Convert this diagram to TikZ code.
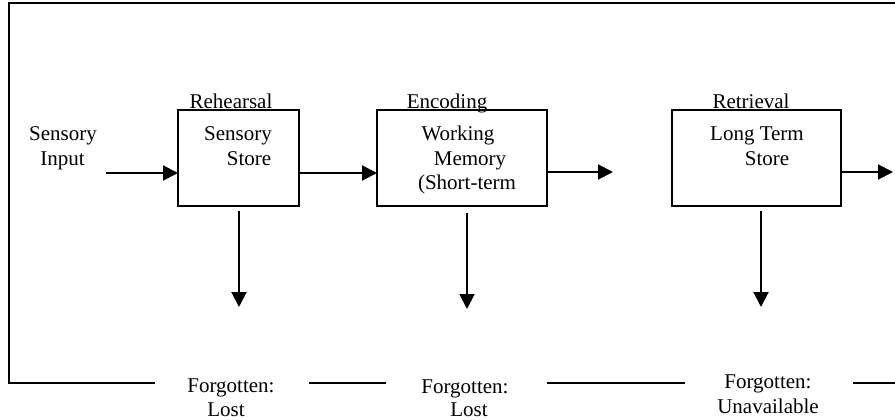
\documentclass[tikz,border=0pt]{standalone}
\usepackage{fontspec}
\setmainfont{Liberation Serif}
\usetikzlibrary{arrows.meta}
\begin{document}
\begin{tikzpicture}[x=1pt,y=-1pt,
  every node/.style={inner sep=0pt, outer sep=0pt, font=\fontsize{21}{24}\selectfont},
  txt/.style={anchor=base},
  storebox/.style={draw, line width=2pt, minimum height=96pt},
  arr/.style={line width=2pt, -{Triangle[length=15pt,width=15pt]}},
  ln/.style={line width=2pt}]
\useasboundingbox (0,0) rectangle (895,420);
% frame
\coordinate (tr) at (895,3);
\coordinate (tl) at (9,3);
\coordinate (bl) at (9,383);
\coordinate (b1e) at (155,383);
\coordinate (b2s) at (309,383);
\coordinate (b2e) at (386,383);
\coordinate (b3s) at (547,383);
\coordinate (b3e) at (685,383);
\coordinate (b4s) at (853,383);
\coordinate (b4e) at (895,383);
\draw[ln] (tr) -- (tl) -- (bl) -- (b1e);
\draw[ln] (b2s) -- (b2e);
\draw[ln] (b3s) -- (b3e);
\draw[ln] (b4s) -- (b4e);
% boxes
\node[storebox, minimum width=121pt] (ss) at (238.5,158) {};
\node[storebox, minimum width=170pt] (wm) at (462,158) {};
\node[storebox, minimum width=169pt] (lt) at (756.5,158) {};
% box texts
\node[txt] (si1) at (63,140) {Sensory};
\node[txt] (si2) at (62.5,165) {Input};
\node[txt] (ss1) at (238,140) {Sensory};
\node[txt] (ss2) at (249,165) {Store};
\node[txt] (wm1) at (458,140) {Working};
\node[txt] (wm2) at (470,165) {Memory};
\node[txt] (wm3) at (467,189) {(Short-term};
\node[txt] (lt1) at (757,140) {Long Term};
\node[txt] (lt2) at (767,165) {Store};
% top labels
\node[txt] (reh) at (231,108) {Rehearsal};
\node[txt] (enc) at (447,108) {Encoding};
\node[txt] (ret) at (751,108) {Retrieval};
% bottom labels
\node[txt] (f1a) at (231,392) {Forgotten:};
\node[txt] (f1b) at (226,416) {Lost};
\node[txt] (f2a) at (465,393) {Forgotten:};
\node[txt] (f2b) at (469,416) {Lost};
\node[txt] (f3a) at (768,388) {Forgotten:};
\node[txt] (f3b) at (768,413) {Unavailable};
% horizontal arrows
\coordinate (inS) at (106,173);
\coordinate (wmOut) at (613,172);
\coordinate (ltOut) at (893,172);
\draw[arr] (inS) -- (inS -| ss.west);
\draw[arr] (ss.east |- inS) -- (wm.west |- inS);
\draw[arr] (wm.east |- wmOut) -- (wmOut);
\draw[arr] (lt.east |- ltOut) -- (ltOut);
% down arrows
\coordinate (d1) at (239,307);
\coordinate (d2) at (467,309);
\coordinate (d3) at (761,307);
\draw[arr] (d1 |- ss.south) ++(0,5) -- (d1);
\draw[arr] (d2 |- wm.south) ++(0,7) -- (d2);
\draw[arr] (d3 |- lt.south) ++(0,5) -- (d3);
\end{tikzpicture}
\end{document}
